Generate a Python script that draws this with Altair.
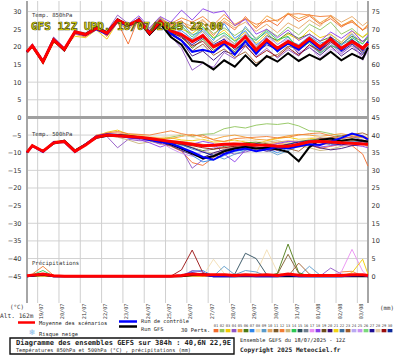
import altair as alt
import pandas as pd

# ---------------- data ----------------
# forecast hours after 18/07/2025 12Z
H = [0, 6, 18, 30, 42, 54, 66, 78, 90, 102, 114, 126, 138, 150, 162, 174, 186,
     198, 210, 222, 234, 246, 258, 270, 282, 294, 306, 318, 330, 342, 354, 366, 378, 384]
DATES = ["19/07", "20/07", "21/07", "22/07", "23/07", "24/07", "25/07", "26/07",
         "27/07", "28/07", "29/07", "30/07", "31/07", "01/08", "02/08", "03/08"]
DAY_TICKS = [12, 36, 60, 84, 108, 132, 156, 180, 204, 228, 252, 276, 300, 324, 348, 372]
GRID_Y = [30, 20, 10, 5, -5, -10, -15, -20, -30, -35, -40]

PERT_COLORS = ["#f26b2c", "#8fc45a", "#f4c900", "#9055c4", "#f29b2e", "#4d7a14", "#2f86ea",
               "#f3deb2", "#5b9bc9", "#e6a55f", "#7b5a2a", "#f27d34", "#c9b57a", "#2bc853",
               "#2d4d5d", "#6d7d8d", "#ea8ef2", "#8b3dea", "#6b4a1a", "#3d0d7a", "#f2d214",
               "#3b6d9d", "#9d5b2a", "#b9a9f2", "#c991f2", "#7ad97a", "#1d0d92", "#e1c9a2",
               "#990d0d", "#0d2999"]

# Temperature 850 hPa (deg C)
T850_MEAN = [18.6, 20.3, 15.8, 22.0, 19.3, 24.3, 23.5, 25.3, 23.9, 27.6,
             26.2, 27.6, 23.9, 27.2, 24.5, 23.5, 21.5, 23.2, 20.0, 21.5,
             20.0, 22.9, 19.1, 22.0, 19.6, 21.5, 20.0, 22.4, 20.0, 22.2,
             19.6, 21.5, 19.6, 21.0]
T850_CTRL = [18.6, 20.5, 15.9, 22.2, 19.4, 24.0, 23.3, 25.0, 23.6, 27.2,
             25.8, 27.9, 24.2, 27.4, 23.8, 21.8, 18.6, 19.2, 18.4, 21.0,
             17.8, 21.6, 18.0, 21.4, 18.8, 21.0, 19.2, 21.8, 19.4, 22.6,
             19.0, 21.8, 19.2, 21.4]
T850_GFS = [18.6, 20.2, 15.6, 21.8, 19.0, 24.2, 23.6, 25.6, 24.1, 27.8,
            26.0, 27.3, 23.5, 26.6, 22.8, 20.6, 16.0, 15.6, 13.6, 16.2,
            14.4, 17.6, 14.6, 17.4, 15.8, 18.2, 16.0, 17.8, 16.4, 18.6,
            16.2, 18.0, 16.6, 19.8]
T850_MEMBERS = {
    1: [18.2, 19.8, 15.4, 21.6, 18.8, 23.6, 22.8, 26.0, 23.0, 27.0,
        20.8, 28.4, 24.6, 28.0, 26.2, 27.4, 24.6, 26.8, 23.2, 27.0,
        24.8, 28.6, 25.2, 27.8, 26.0, 29.4, 27.2, 28.8, 26.4, 28.0,
        25.6, 27.4, 24.8, 26.2],
    2: [18.6, 20.4, 16.1, 22.3, 19.5, 24.5, 23.7, 25.5, 24.2, 27.8,
        26.5, 27.9, 24.3, 27.6, 25.6, 26.2, 25.0, 26.6, 23.8, 25.4,
        23.2, 25.2, 22.4, 25.0, 23.0, 25.6, 23.4, 26.4, 24.8, 27.0,
        23.6, 25.2, 22.6, 23.8],
    3: [18.8, 20.6, 15.2, 21.2, 19.8, 23.0, 22.6, 24.8, 22.2, 27.0,
        25.6, 28.2, 24.2, 28.4, 25.8, 25.0, 23.8, 26.0, 22.6, 24.8,
        21.8, 24.2, 21.0, 23.8, 21.4, 23.6, 22.0, 24.8, 22.6, 23.6,
        21.2, 24.4, 22.8, 24.0],
    4: [18.4, 20.8, 16.2, 22.8, 19.8, 24.6, 23.8, 25.8, 24.4, 29.0,
        26.6, 27.2, 23.6, 27.8, 23.0, 19.6, 13.4, 15.4, 14.2, 18.4,
        16.6, 20.2, 17.2, 19.6, 16.8, 19.2, 17.4, 20.6, 18.2, 21.0,
        18.0, 20.4, 17.2, 19.0],
    5: [18.5, 20.1, 15.7, 21.8, 19.1, 24.3, 23.6, 25.2, 23.9, 27.7,
        26.3, 27.6, 24.1, 27.3, 25.2, 26.4, 24.8, 27.4, 25.0, 28.2,
        26.0, 28.0, 25.6, 28.8, 27.2, 29.6, 28.0, 29.2, 26.8, 28.6,
        26.0, 27.6, 24.6, 26.4],
    6: [18.5, 20.0, 15.5, 21.7, 19.0, 23.9, 23.2, 25.0, 23.7, 27.3,
        25.9, 27.3, 23.4, 26.9, 23.8, 23.0, 19.6, 22.2, 19.0, 21.0,
        18.6, 22.0, 19.8, 23.2, 21.8, 24.0, 22.4, 23.6, 21.6, 22.8,
        20.8, 23.0, 21.6, 22.4],
    7: [18.6, 20.0, 16.0, 22.4, 19.0, 24.8, 23.2, 25.0, 24.2, 27.8,
        26.4, 27.0, 23.2, 26.8, 24.0, 24.6, 22.2, 25.0, 21.8, 26.6,
        22.4, 24.6, 20.6, 22.6, 18.4, 21.8, 20.6, 23.0, 21.0, 22.0,
        20.4, 23.6, 19.6, 21.8],
    9: [18.8, 20.4, 16.4, 22.6, 19.6, 24.4, 24.0, 25.4, 23.4, 27.4,
        26.0, 28.0, 25.0, 28.2, 25.4, 26.8, 23.4, 24.4, 21.0, 23.4,
        20.8, 25.8, 22.0, 24.2, 20.6, 22.8, 19.0, 21.4, 18.6, 22.8,
        20.6, 22.2, 19.8, 20.4],
    10: [18.7, 20.5, 16.0, 22.0, 19.6, 24.6, 23.8, 25.6, 24.1, 27.3,
         25.8, 28.0, 25.2, 28.4, 26.0, 27.0, 25.8, 27.8, 24.6, 27.4,
         25.4, 27.0, 24.4, 26.4, 24.0, 26.8, 25.2, 27.6, 25.8, 29.0,
         27.0, 28.6, 26.0, 27.2],
    12: [18.4, 20.1, 15.6, 21.9, 19.2, 24.1, 23.0, 25.6, 23.0, 26.8,
         25.0, 27.8, 24.0, 27.6, 26.6, 28.2, 27.0, 28.6, 26.2, 29.2,
         26.4, 28.0, 26.4, 27.2, 27.6, 29.2, 29.4, 29.0, 28.6, 28.8,
         26.0, 27.0, 24.8, 25.6],
    13: [18.6, 20.3, 15.9, 22.1, 19.4, 24.2, 23.5, 25.3, 23.8, 27.5,
         26.1, 27.5, 23.7, 27.1, 24.4, 23.8, 22.0, 24.4, 21.2, 23.0,
         20.8, 22.8, 20.0, 21.8, 19.4, 21.2, 18.8, 22.6, 19.8, 23.4,
         21.4, 23.8, 21.0, 22.6],
    14: [18.5, 20.2, 15.9, 22.2, 19.4, 24.4, 23.6, 25.2, 24.0, 27.6,
         26.1, 27.4, 23.8, 27.0, 25.0, 26.0, 22.8, 25.6, 22.4, 24.0,
         21.6, 23.4, 21.8, 24.6, 22.0, 23.0, 19.4, 21.2, 18.2, 20.4,
         19.2, 22.6, 20.8, 22.8],
    18: [18.6, 20.3, 15.7, 22.0, 19.2, 24.2, 23.4, 25.4, 23.8, 27.9,
         26.4, 28.8, 25.4, 28.6, 27.0, 30.4, 27.6, 30.8, 29.6, 30.2,
         26.0, 27.8, 23.6, 25.0, 22.6, 24.8, 21.8, 23.6, 21.6, 24.2,
         22.4, 24.6, 21.4, 23.2],
    20: [18.6, 20.2, 15.7, 21.9, 19.2, 24.1, 23.4, 25.1, 23.6, 27.3,
         25.9, 27.2, 23.2, 26.6, 23.4, 21.6, 17.4, 18.8, 16.2, 18.8,
         17.8, 20.8, 18.6, 21.2, 19.0, 21.6, 18.0, 19.8, 17.6, 20.2,
         17.4, 19.6, 17.8, 19.4],
    23: [18.7, 20.4, 15.9, 22.1, 19.4, 24.3, 23.6, 25.3, 23.9, 27.5,
         26.0, 27.6, 23.6, 27.0, 23.6, 22.0, 18.8, 20.8, 17.6, 19.4,
         17.0, 18.6, 15.4, 17.0, 17.8, 20.2, 19.4, 22.0, 20.4, 22.4,
         19.6, 21.0, 18.6, 20.6],
    25: [18.6, 20.5, 15.8, 22.0, 19.5, 24.0, 23.4, 25.2, 23.8, 27.4,
         26.2, 27.7, 24.4, 27.4, 24.8, 24.0, 21.0, 23.8, 19.8, 22.4,
         20.4, 23.8, 20.2, 23.0, 20.8, 22.2, 18.4, 20.0, 16.8, 19.4,
         18.0, 21.6, 16.2, 18.8],
    27: [18.6, 20.4, 15.8, 22.1, 19.3, 24.4, 23.5, 25.4, 24.0, 27.6,
         26.3, 27.7, 24.0, 27.3, 24.6, 23.0, 20.6, 22.6, 20.6, 22.2,
         19.2, 21.6, 18.4, 20.6, 19.2, 20.8, 19.6, 21.8, 19.0, 21.6,
         18.6, 20.8, 18.2, 20.0],
    29: [18.6, 20.2, 15.8, 22.0, 19.3, 24.2, 23.6, 25.4, 24.0, 27.7,
         26.2, 27.5, 23.8, 27.2, 24.2, 22.6, 20.2, 21.6, 18.4, 20.6,
         18.2, 20.4, 17.0, 19.0, 17.2, 19.8, 17.6, 20.6, 18.8, 21.4,
         19.4, 22.0, 20.0, 21.6],
}

# Temperature 500 hPa (deg C)
T500_MEAN = [-9.9, -8.0, -9.6, -7.2, -6.8, -9.6, -7.8, -5.6, -5.0, -5.2,
             -5.4, -5.6, -6.0, -6.4, -6.8, -7.2, -7.6, -8.0, -7.9, -7.6,
             -7.5, -7.6, -7.8, -7.9, -8.2, -8.2, -7.6, -6.9, -6.8, -7.0,
             -7.2, -7.3, -7.5, -7.6]
T500_CTRL = [-9.9, -8.1, -9.8, -7.0, -6.9, -9.8, -7.6, -5.4, -4.8, -5.0,
             -5.6, -5.8, -6.4, -7.0, -7.4, -8.6, -9.8, -11.2, -12.0, -10.4,
             -9.4, -8.8, -9.6, -9.0, -8.4, -8.8, -8.2, -7.6, -7.8, -6.8,
             -5.8, -4.6, -5.4, -6.2]
T500_GFS = [-9.9, -8.0, -9.6, -7.4, -6.6, -9.4, -7.6, -5.8, -5.2, -5.0,
            -5.2, -5.6, -6.0, -6.6, -7.6, -8.8, -10.2, -11.6, -11.0, -9.6,
            -8.8, -8.4, -8.8, -8.6, -9.0, -9.8, -12.4, -8.4, -6.4, -6.0,
            -6.6, -6.2, -6.6, -6.8]
T500_MEMBERS = {
    1: [-9.8, -7.8, -9.4, -7.0, -6.6, -9.2, -7.4, -5.2, -4.6, -4.4,
        -5.0, -5.4, -6.6, -7.4, -8.2, -9.6, -12.8, -13.6, -11.4, -9.8,
        -8.8, -9.2, -8.0, -7.4, -7.2, -7.6, -8.4, -7.8, -8.8, -8.2,
        -7.6, -8.0, -10.4, -13.8],
    2: [-9.9, -8.0, -9.6, -7.2, -6.8, -9.6, -7.8, -5.6, -5.0, -5.2,
        -5.4, -5.6, -6.0, -6.2, -5.6, -5.0, -5.4, -4.8, -4.6, -3.2,
        -2.6, -3.0, -2.2, -1.8, -2.0, -1.6, -2.4, -3.8, -4.0, -4.6,
        -5.4, -5.8, -5.6, -6.0],
    3: [-10.0, -8.2, -9.6, -7.2, -7.0, -9.6, -7.6, -5.4, -4.2, -3.6,
        -4.8, -5.0, -5.6, -6.0, -5.8, -6.4, -6.6, -6.2, -7.0, -6.8,
        -6.4, -7.0, -7.4, -6.6, -6.0, -5.6, -6.2, -6.0, -5.8, -6.4,
        -6.8, -6.2, -6.6, -7.0],
    4: [-9.9, -8.1, -9.8, -7.4, -7.2, -10.0, -7.8, -5.8, -5.4, -8.6,
        -6.2, -6.6, -6.6, -7.6, -6.8, -9.0, -14.4, -12.0, -10.4, -9.6,
        -10.4, -9.8, -9.0, -8.2, -9.4, -8.0, -7.4, -6.8, -5.8, -6.2,
        -6.0, -5.4, -6.4, -6.8],
    5: [-9.9, -7.9, -9.5, -6.8, -6.6, -9.5, -7.4, -5.4, -4.8, -4.9,
        -5.1, -5.2, -5.6, -5.8, -6.0, -5.4, -4.8, -5.6, -6.2, -5.4,
        -5.0, -5.6, -6.2, -6.4, -5.8, -5.2, -4.8, -5.0, -5.4, -5.0,
        -4.6, -5.2, -5.8, -6.4],
    6: [-9.9, -8.1, -9.6, -7.1, -6.9, -9.7, -7.7, -5.6, -5.1, -5.3,
        -5.6, -5.8, -6.2, -6.6, -7.0, -7.8, -8.6, -9.4, -9.0, -8.2,
        -7.8, -7.2, -7.0, -7.4, -8.0, -7.6, -6.8, -6.4, -6.2, -6.6,
        -6.8, -6.4, -6.8, -7.2],
    7: [-9.9, -8.0, -9.7, -7.0, -6.8, -9.8, -7.8, -5.6, -5.0, -5.2,
        -5.4, -5.8, -6.2, -6.8, -7.4, -8.2, -10.8, -12.6, -12.0, -10.8,
        -9.6, -9.2, -8.4, -8.8, -10.0, -8.6, -7.8, -7.4, -7.0, -7.8,
        -7.2, -6.6, -7.0, -7.4],
    8: [-9.9, -7.9, -9.5, -6.9, -6.7, -9.5, -7.5, -5.3, -4.6, -4.6,
        -5.0, -5.2, -5.4, -5.6, -5.2, -4.8, -5.6, -6.4, -7.2, -7.8,
        -7.0, -6.4, -6.6, -7.2, -7.8, -7.2, -6.4, -5.8, -5.4, -5.8,
        -6.2, -6.6, -6.0, -5.6],
    9: [-9.9, -7.9, -9.5, -7.1, -6.7, -9.7, -7.7, -5.5, -5.1, -5.3,
        -5.5, -5.6, -6.0, -6.3, -6.9, -7.8, -9.0, -9.8, -10.6, -11.8,
        -10.4, -9.4, -8.6, -9.2, -10.6, -9.4, -8.2, -8.0, -7.6, -7.2,
        -7.0, -6.8, -7.2, -8.0],
    10: [-9.9, -8.0, -9.6, -7.1, -6.8, -9.6, -7.7, -5.6, -5.1, -5.3,
         -5.5, -5.7, -6.0, -6.4, -6.6, -6.8, -7.2, -7.6, -8.2, -8.6,
         -9.0, -8.6, -8.0, -7.6, -7.0, -6.6, -6.8, -7.4, -7.8, -7.4,
         -6.8, -6.4, -7.0, -8.6],
    12: [-9.9, -8.0, -9.6, -6.8, -6.6, -9.4, -7.6, -5.0, -4.4, -4.0,
         -4.6, -4.8, -5.0, -4.4, -3.8, -4.6, -5.2, -5.0, -6.4, -6.8,
         -6.0, -5.8, -5.6, -5.4, -5.8, -5.6, -5.0, -4.6, -4.4, -5.2,
         -6.0, -5.6, -5.2, -5.8],
    13: [-9.9, -8.0, -9.6, -7.2, -6.9, -9.7, -7.8, -5.7, -5.2, -5.6,
         -6.4, -7.4, -7.0, -6.6, -6.8, -7.6, -8.4, -9.6, -10.2, -9.0,
         -8.4, -8.0, -7.6, -7.0, -6.6, -7.2, -8.0, -8.6, -9.4, -9.0,
         -8.2, -7.6, -7.4, -7.2],
    18: [-9.9, -8.2, -9.8, -7.2, -7.0, -9.8, -7.8, -5.6, -5.0, -5.4,
         -5.8, -6.2, -7.2, -8.4, -7.4, -7.0, -7.6, -6.8, -7.4, -10.4,
         -12.6, -9.2, -7.6, -8.2, -7.4, -6.8, -7.0, -7.6, -8.4, -8.0,
         -7.6, -7.8, -8.2, -8.6],
    20: [-9.9, -8.0, -9.7, -7.1, -6.9, -9.8, -7.8, -5.6, -5.1, -5.3,
         -5.5, -5.7, -6.3, -7.2, -8.0, -9.4, -10.6, -11.4, -10.0, -9.2,
         -8.6, -8.2, -8.8, -9.6, -9.0, -8.2, -7.6, -7.8, -8.6, -9.2,
         -8.8, -8.0, -7.6, -7.4],
    23: [-9.9, -8.0, -9.5, -7.0, -6.8, -9.6, -7.6, -5.6, -5.2, -5.4,
         -5.6, -5.8, -6.4, -6.6, -7.0, -7.4, -7.8, -8.2, -8.0, -7.8,
         -8.4, -8.8, -9.6, -8.6, -8.0, -8.8, -9.6, -7.2, -6.0, -5.8,
         -5.2, -4.8, -4.4, -5.0],
    25: [-9.9, -8.0, -9.7, -7.0, -6.9, -9.7, -7.8, -5.6, -5.0, -5.1,
         -5.3, -5.6, -6.2, -7.0, -8.8, -10.2, -11.0, -9.8, -8.6, -8.0,
         -7.8, -7.6, -8.6, -9.0, -8.4, -8.0, -7.8, -7.2, -6.8, -7.4,
         -8.0, -7.6, -7.2, -7.8],
    27: [-9.9, -8.0, -9.6, -7.0, -6.8, -9.6, -7.7, -5.5, -5.0, -5.2,
         -5.4, -5.6, -6.1, -6.5, -7.0, -7.6, -8.6, -9.8, -10.8, -10.2,
         -9.0, -8.0, -7.4, -7.8, -8.4, -7.6, -7.0, -6.6, -6.8, -7.4,
         -7.8, -7.2, -6.8, -7.0],
    29: [-9.9, -8.0, -9.6, -7.1, -6.8, -9.7, -7.7, -5.5, -5.1, -5.2,
         -5.4, -5.6, -6.1, -6.6, -7.2, -7.6, -8.0, -8.6, -9.0, -8.6,
         -8.2, -8.0, -8.4, -8.8, -9.2, -8.4, -7.8, -7.0, -6.6, -6.8,
         -7.0, -7.4, -7.6, -7.8],
}

# Precipitation (mm)
P_MEAN = [0.1, 0.3, 0.6, 0.1, 0, 0, 0, 0, 0, 0,
          0, 0, 0, 0, 0, 0.2, 0.6, 0.4, 0.4, 0.4,
          0.2, 0.4, 0.3, 0.4, 0.2, 0.6, 0.3, 0.2, 0.2, 0.2,
          0.2, 0.4, 0.4, 0.2]
P_CTRL = [0, 0.2, 0.6, 0, 0, 0, 0, 0, 0, 0,
          0, 0, 0, 0, 0, 0.2, 0.8, 0.4, 0, 0,
          0, 0.2, 0, 0, 0, 0.3, 0, 0, 0, 0,
          0, 0.2, 0.3, 0]
P_GFS = [0, 0.1, 0.4, 0, 0, 0, 0, 0, 0, 0,
         0, 0, 0, 0, 0, 0, 0.3, 0.6, 0, 0,
         0, 0, 0, 0, 0, 0, 0, 0, 0, 0,
         0, 0, 0, 0]
P_MEMBERS = {
    12: [0, 0.6, 2.8, 0.2, 0, 0, 0, 0, 0, 0,
         0, 0, 0, 0, 0, 0, 0, 0, 0, 0,
         0, 0, 0, 0, 0, 0, 0, 0, 0, 0,
         1.2, 1.4, 0, 0],
    14: [0, 0.4, 1.6, 0, 0, 0, 0, 0, 0, 0,
         0, 0, 0, 0, 0, 0, 0, 0, 0, 0,
         0, 0, 0, 0, 0, 0, 0, 0, 0, 0,
         0, 0, 0, 0],
    7: [0, 0, 0.6, 0, 0, 0, 0, 0, 0, 0,
        0, 0, 0, 0, 0, 0, 1.4, 1.6, 0, 0.3,
        0, 0, 0, 0, 0, 0, 0, 0, 0, 0,
        0, 0, 0, 0],
    29: [0, 0, 0, 0, 0, 0, 0, 0, 0, 0,
         0, 0, 0, 0, 0, 1.8, 7.4, 1.0, 0, 0,
         0, 0, 0, 0, 0, 0, 0, 0, 0, 0,
         0, 0, 0, 0],
    4: [0, 0, 0, 0, 0, 0, 0, 0, 0, 0,
        0, 0, 0, 0, 0, 0, 1.6, 1.2, 0, 0,
        0, 0, 0, 0, 0, 0, 0, 0, 0, 2.3,
        0.6, 0, 0, 0],
    8: [0, 0, 0, 0, 0, 0, 0, 0, 0, 0,
        0, 0, 0, 0, 0, 0, 0, 0, 4.8, 0.8,
        0, 0, 0.6, 7.5, 1.2, 0, 0, 0, 0, 0,
        0, 0, 0, 0],
    9: [0, 0, 0, 0, 0, 0, 0, 0, 0, 0,
        0, 0, 0, 0, 0, 0, 0, 0, 0, 2.8,
        0.4, 1.6, 1.2, 0, 0, 0, 0, 2.8, 0.3, 0,
        0, 0, 0, 0],
    15: [0, 0, 0, 0, 0, 0, 0, 0, 0, 0,
         0, 0, 0, 0, 0, 0, 0, 0, 0, 0,
         0.6, 6.5, 5.0, 0.4, 0, 0, 0, 0, 0, 0,
         0, 0, 0, 0],
    6: [0, 0, 0, 0, 0, 0, 0, 0, 0, 0,
        0, 0, 0, 0, 0, 0, 0, 0, 0, 0,
        0, 0, 0, 0, 0.8, 9.1, 1.0, 0, 0, 0,
        0, 0, 0, 0],
    11: [0, 0, 0, 0, 0, 0, 0, 0, 0, 0,
         0, 0, 0, 0, 0, 0, 0, 0, 0, 0,
         0, 0, 0, 0, 0.6, 6.2, 0.8, 0, 0, 0,
         0, 0, 0, 0],
    23: [0, 0, 0, 0, 0, 0, 0, 0, 0, 0,
         0, 0, 0, 0, 0, 0, 0, 0, 0, 0,
         0.4, 0, 0, 0, 0, 0, 3.7, 0.6, 0, 0,
         0, 0, 0, 0],
    17: [0, 0, 0, 0, 0, 0, 0, 0, 0, 0,
         0, 0, 0, 0, 0, 0, 0, 0, 0, 0,
         0, 0, 0, 0, 0, 0, 0, 0, 0, 0,
         1.2, 7.6, 1.4, 0],
    3: [0, 0, 0, 0, 0, 0, 0, 0, 0, 0,
        0, 0, 0, 0, 0, 0, 0, 0, 0, 0,
        0, 0, 0, 0, 0, 0, 0, 0, 0, 0,
        0, 1.0, 4.8, 0.6],
}
PRECIP_BASE = -45  # 0 mm sits on the -45 line of the shared axis

# ---------------- build long table ----------------
rows = []


def add(panel, name, kind, color, vals, offset=0.0):
    for h, v in zip(H, vals):
        rows.append({"h": h, "v": v + offset, "key": f"{panel}_{name}", "kind": kind, "color": color})


for n, vals in T850_MEMBERS.items():
    add("t850", n, "m", PERT_COLORS[n - 1], vals)
for n, vals in T500_MEMBERS.items():
    add("t500", n, "m", PERT_COLORS[n - 1], vals)
for n, vals in P_MEMBERS.items():
    add("prec", n, "m", PERT_COLORS[n - 1], vals, PRECIP_BASE)
add("t850", "gfs", "gfs", "#000000", T850_GFS)
add("t500", "gfs", "gfs", "#000000", T500_GFS)
add("prec", "gfs", "gfs", "#000000", P_GFS, PRECIP_BASE)
add("t850", "ctrl", "ctrl", "#0000ff", T850_CTRL)
add("t500", "ctrl", "ctrl", "#0000ff", T500_CTRL)
add("prec", "ctrl", "ctrl", "#0000ff", P_CTRL, PRECIP_BASE)
add("t850", "mean", "mean", "#ff0000", T850_MEAN)
add("t500", "mean", "mean", "#ff0000", T500_MEAN)
add("prec", "mean", "mean", "#ff0000", P_MEAN, PRECIP_BASE)
df = pd.DataFrame(rows)

# ---------------- scales / axes ----------------
W, HGT = 341, 302
OX, OY = 27, 1  # plot origin in the window
XS = alt.Scale(domain=[0, 384], nice=False, zero=False)
YS = alt.Scale(domain=[-52.6, 33.0], nice=False, zero=False)
YVALS = list(range(-45, 31, 5))

LEFT_AXIS = alt.Axis(orient="left", values=YVALS, ticks=False, domain=False, grid=False,
                     labelPadding=6, labelFont="DejaVu Sans", labelFontSize=6.5,
                     labelColor="#333333", title=None)
RIGHT_AXIS = alt.Axis(orient="right", values=YVALS, labelExpr="datum.value + 45", ticks=False,
                      domain=False, grid=False, labelPadding=3, labelFont="DejaVu Sans",
                      labelFontSize=6.5, labelColor="#333333", title=None)

grid = alt.Chart(pd.DataFrame({"g": GRID_Y})).mark_rule(color="#d2d2d2", strokeWidth=1).encode(
    y=alt.Y("g:Q", scale=YS, axis=RIGHT_AXIS))
days = pd.DataFrame({"h": DAY_TICKS, "d": DATES})
vgrid = alt.Chart(days).mark_rule(color="#cfcfcf", strokeWidth=1).encode(
    x=alt.X("h:Q", scale=XS, axis=None))
day_labels = alt.Chart(days).mark_text(angle=270, align="right", baseline="middle",
                                       font="DejaVu Sans Mono", fontSize=5.2, color="#333333").encode(
    x=alt.X("h:Q", scale=XS, axis=None), xOffset=alt.value(3.5),
    y=alt.value(303.5 - OY), text="d:N")
borders = alt.Chart(pd.DataFrame({"b": [0, 384]})).mark_rule(color="#a6a6a6", strokeWidth=2).encode(
    x=alt.X("b:Q", scale=XS, axis=None))
zero = alt.Chart(pd.DataFrame({"z": [0]})).mark_rule(color="#a0a0a0", strokeWidth=3).encode(
    y=alt.Y("z:Q", scale=YS, axis=None))


def lines(kind, width, axes=False):
    return alt.Chart(df[df.kind == kind]).mark_line(strokeWidth=width).encode(
        x=alt.X("h:Q", scale=XS, axis=None),
        y=alt.Y("v:Q", scale=YS, axis=LEFT_AXIS if axes else None),
        color=alt.Color("color:N", scale=None),
        detail=alt.Detail("key:N"),
        order=alt.Order("h:Q"))


members = lines("m", 0.9, axes=True)
gfs = lines("gfs", 2)
ctrl = lines("ctrl", 2)
mean = lines("mean", 3)


def txt(s, x, y, size, bold=False, color="#222222", font="DejaVu Sans Mono", align="left", **kw):
    return alt.Chart(pd.DataFrame({"t": [s]})).mark_text(
        align=align, baseline="middle", font=font, fontSize=size,
        fontWeight="bold" if bold else "normal", **({"color": color} if color else {}), **kw).encode(
        x=alt.value(x - OX), y=alt.value(y - OY), text="t:N")


def seg(x1, x2, y, color, w):
    return alt.Chart(pd.DataFrame({"a": [0]})).mark_rule(color=color, strokeWidth=w).encode(
        x=alt.value(x1 - OX), x2=alt.value(x2 - OX), y=alt.value(y - OY))


title = txt("GFS 12Z UPD. 18/07/2025 22:00", 31, 27, 11, bold=True, color=None,
            fill="#f4f400", stroke="#4a4a10", strokeWidth=0.7)

labels = [
    txt("Temp. 850hPa", 32, 15, 5.6, color="#333333"),
    txt("Temp. 500hPa", 32, 134, 5.6, color="#333333"),
    txt("Précipitations", 32, 263, 5.6, color="#333333"),
    txt("(°C)", 10, 307, 5.8, color="#333333"),
    txt("Alt. 162m", 0, 316, 6.2, color="#333333"),
    txt("(mm)", 380, 308, 5.8, color="#333333"),
    seg(18, 35, 322.5, "#ff0000", 2.5),
    txt("Moyenne des scénarios", 39, 322.5, 5.4),
    seg(119, 137, 321.5, "#0000ff", 2.5),
    txt("Run de contrôle", 141, 321, 5.3),
    seg(119, 137, 326.5, "#000000", 2.5),
    txt("Run GFS", 141, 328.5, 5.3),
    txt("❄", 32, 333, 8, font="DejaVu Sans", color="#7fb8e8", align="center"),
    txt("Risque neige", 39, 334, 5.4),
    txt("30 Perts.", 181, 330, 5.4),
    txt("Ensemble GEFS du 18/07/2025 - 12Z", 240, 340, 5.3),
    txt("Copyright 2025 Meteociel.fr", 240, 350, 6.2, bold=True),
]

box = alt.Chart(pd.DataFrame({"a": [0]})).mark_rect(fill="white", stroke="#111111", strokeWidth=1.4).encode(
    x=alt.value(10 - OX), x2=alt.value(234 - OX), y=alt.value(338 - OY), y2=alt.value(354 - OY))
box_t1 = txt("Diagramme des ensembles GEFS sur 384h : 40,6N 22,9E", 16, 342.8, 7, bold=True)
box_t2 = txt("Températures 850hPa et 500hPa (°C) , précipitations (mm)", 16, 349.8, 5.2)

sw = pd.DataFrame({"n": list(range(1, 31)), "c": PERT_COLORS})
sw["lab"] = sw["n"].map(lambda k: f"{k:02d}")
sw["cx"] = 216 - OX + (sw["n"] - 1) * 6.0
sw["x1"] = sw["cx"] - 2.4
sw["x2"] = sw["cx"] + 2.4
swatches = alt.Chart(sw).mark_rect().encode(
    x=alt.X("x1:Q", scale=None, axis=None), x2="x2:Q",
    y=alt.value(329 - OY), y2=alt.value(332.3 - OY),
    color=alt.Color("c:N", scale=None))
sw_labels = alt.Chart(sw).mark_text(font="DejaVu Sans Mono", fontSize=3.8, color="#444444",
                                    baseline="middle", align="center").encode(
    x=alt.X("cx:Q", scale=None, axis=None), y=alt.value(326 - OY), text="lab:N")

chart = alt.layer(
    grid, vgrid, borders, zero, members, gfs, ctrl, mean, title, day_labels, *labels,
    box, box_t1, box_t2, swatches, sw_labels
).properties(
    width=W, height=HGT, autosize=alt.AutoSizeParams(type="none"),
    padding={"left": OX, "top": OY, "right": 395 - OX - W, "bottom": 355 - OY - HGT},
    background="white"
).configure_view(stroke=None)

chart.save("out.html", embed_options={"renderer": "svg", "actions": False})
